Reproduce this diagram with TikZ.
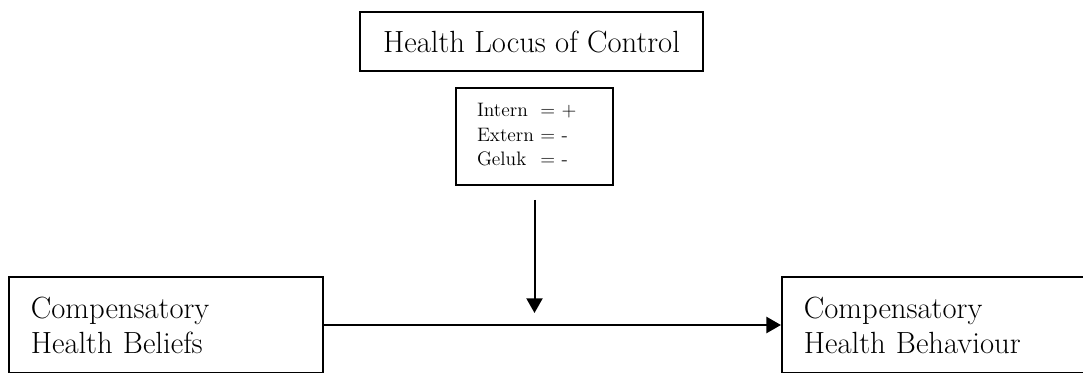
\documentclass[tikz,border=0pt]{standalone}
\usepackage{amsmath}
\usepackage{tikz}
\usetikzlibrary{arrows.meta}

\begin{document}
\begin{tikzpicture}[x=0.75pt,y=-0.75pt,
        box/.style={draw, line width=1.2pt, inner sep=0pt},
        bigtext/.style={font=\fontsize{23}{26.25}\selectfont},
        arr/.style={-{Triangle[length=11pt,width=12pt]}}]
            \useasboundingbox (0,0) rectangle (1083,372);
            \clip (0,0) rectangle (1083,372);
            \node[box, bigtext, minimum width=257.25pt, minimum height=44.25pt] (hlc) at (531.5,41.5) {Health Locus of Control};
            \node[box, font=\fontsize{14.6}{18.4}\selectfont, text width=86.25pt, inner xsep=15.75pt, minimum height=72.75pt, align=left] (lc) at (534.5,136.5)
                {\begin{tabular}{@{}l@{\ }l@{}}Intern & = +\\ Extern & = -\\ Geluk & = -\end{tabular}};
            \node[box, bigtext, anchor=west, text width=202.5pt, inner xsep=16.5pt, minimum height=72pt, align=left] (chb) at (8,325) {Compensatory\\Health Beliefs};
            \node[box, bigtext, anchor=west, text width=202.5pt, inner xsep=16.5pt, minimum height=72pt, align=left] (chbh) at (781,325) {Compensatory\\Health Behaviour};
            \coordinate (mod) at (534.5,313);
        %   moderator arrow starts a bit below the box
            \draw[arr, line width=1.5pt, shorten <=10.5pt] (lc.south) -- (mod);
            \draw[arr, line width=2pt] (chb) -- (chbh);
        \end{tikzpicture}
\end{document}
